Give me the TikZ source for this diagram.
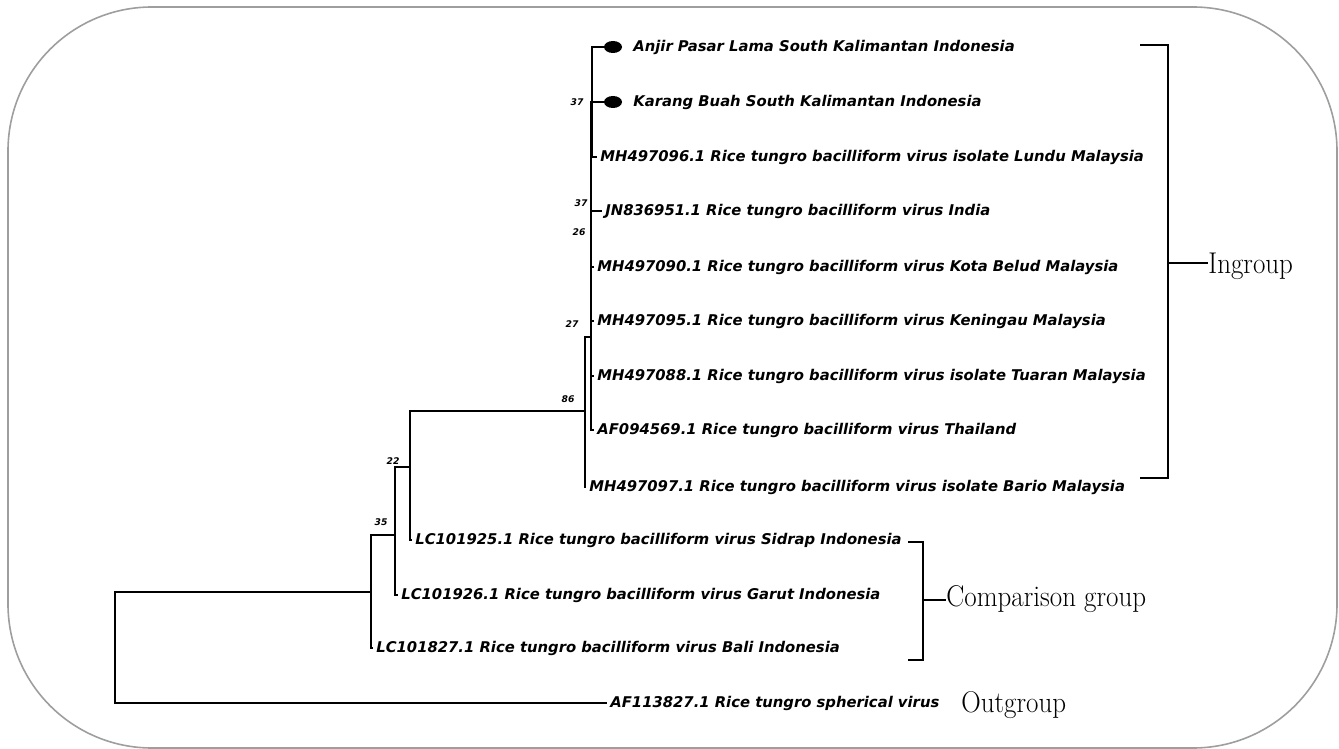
\documentclass[tikz,border=0pt]{standalone}
\usepackage{fontspec}
\usepackage{graphicx}
\newfontfamily\leaffont{DejaVu Sans}
\usetikzlibrary{shapes.geometric}
\tikzset{
  frame/.style={
    draw=black!38,
    line width=0.8pt,
    rounded corners=72pt
  },
  % Tree branches and group brackets:
  branch/.style={line width=0.8pt, line cap=rect},
  brk/.style={line width=1.2pt}
}

\begin{document}
\begin{tikzpicture}[
    x=0.5pt, y=-0.5pt,
    leaf/.style={
      anchor=west,
      inner xsep=2pt,
      inner ysep=1pt,
      font=\leaffont\bfseries\itshape\fontsize{7.4}{8}\selectfont
    },
    boot/.style={
      inner sep=0pt,
      font=\leaffont\bfseries\itshape\fontsize{4.6}{5}\selectfont
    },
    dot/.style={
      ellipse,
      fill=black,
      inner sep=0pt,
      minimum width=9pt,
      minimum height=6pt
    },
    grp/.style={
      anchor=base west,
      inner sep=0pt,
      font=\fontsize{15}{18}\selectfont
    }
  ]
  \useasboundingbox (0,0) rectangle (1339,749);
  \draw[frame] (8,7) rectangle (1337,748);

  % leaves
  \node[dot] (dot1) at (613,47) {};
  \node[leaf] (anjir) at (629,47) {Anjir Pasar Lama South Kalimantan Indonesia};
  \node[dot] (dot2) at (613,102) {};
  \node[leaf] (karang) at (629,102) {Karang Buah South Kalimantan Indonesia};
  \node[leaf] (lundu) at (596,157) {MH497096.1 Rice tungro bacilliform virus isolate Lundu Malaysia};
  \node[leaf] (india) at (601,211) {JN836951.1 Rice tungro bacilliform virus India};
  \node[leaf] (kota) at (593,267) {MH497090.1 Rice tungro bacilliform virus Kota Belud Malaysia};
  \node[leaf] (keningau) at (593,321) {MH497095.1 Rice tungro bacilliform virus Keningau Malaysia};
  \node[leaf] (tuaran) at (593,376) {MH497088.1 Rice tungro bacilliform virus isolate Tuaran Malaysia};
  \node[leaf] (thai) at (593,430) {AF094569.1 Rice tungro bacilliform virus Thailand};
  \node[leaf] (bario) at (585,487) {MH497097.1 Rice tungro bacilliform virus isolate Bario Malaysia};
  \node[leaf] (sidrap) at (411,540) {LC101925.1 Rice tungro bacilliform virus Sidrap Indonesia};
  \node[leaf] (garut) at (397,595) {LC101926.1 Rice tungro bacilliform virus Garut Indonesia};
  \node[leaf] (bali) at (372,648) {LC101827.1 Rice tungro bacilliform virus Bali Indonesia};
  \node[leaf] (rtsv) at (606,703) {AF113827.1 Rice tungro spherical virus};

  % inner nodes
  \coordinate (n37a) at (592,102);
  \coordinate (n37b) at (591,205);
  \coordinate (n26) at (591,232);
  \coordinate (n27) at (591,337);
  \coordinate (n86) at (585,411);
  \coordinate (nsid) at (410,467);
  \coordinate (n22) at (395,535);
  \coordinate (n35) at (371,592);
  \coordinate (root) at (115,648);

  \draw[branch] (root) |- (n35);
  \draw[branch] (root) |- (rtsv.west);
  \draw[branch] (n35) |- (n22);
  \draw[branch] (n35) |- (bali.west);
  \draw[branch] (n22) |- (nsid);
  \draw[branch] (n22) |- (garut.west);
  \draw[branch] (nsid) |- (n86);
  \draw[branch] (nsid) |- (sidrap.west);
  \draw[branch] (n86) |- (n27);
  \draw[branch] (n86) |- (bario.west);
  \draw[branch] (n27) |- (n26);
  \draw[branch] (n27) |- (keningau.west);
  \draw[branch] (n27) |- (tuaran.west);
  \draw[branch] (n27) |- (thai.west);
  \draw[branch] (n26) |- (n37b);
  \draw[branch] (n26) |- (kota.west);
  \draw[branch] (n37b) |- (n37a);
  \draw[branch] (n37b) |- (india.west);
  \draw[branch] (n37a) |- (dot1.west);
  \draw[branch] (n37a) |- (dot2.west);
  \draw[branch] (n37a) |- (lundu.west);

  % bootstrap values
  \node[boot] (b37a) at (577,102) {37};
  \node[boot] (b37b) at (581,203) {37};
  \node[boot] (b26) at (579,232) {26};
  \node[boot] (b27) at (572,324) {27};
  \node[boot] (b86) at (568,399) {86};
  \node[boot] (b22) at (393,461) {22};
  \node[boot] (b35) at (381,522) {35};

  % groups
  \coordinate (inTop) at (1140,45);
  \coordinate (inBot) at (1140,478);
  \coordinate (inMid) at (1168,263);
  \node[grp] (ingroup) at (1208,273) {\scalebox{.9}[1]{Ingroup}};
  \draw[brk] (inTop) -| (inMid) |- (inBot);
  \draw[brk] (inMid) -- (inMid -| ingroup.west);

  \coordinate (cmTop) at (908,542);
  \coordinate (cmBot) at (908,660);
  \coordinate (cmMid) at (923,600);
  \node[grp] (compgrp) at (946,606) {\scalebox{.9}[1]{Comparison group}};
  \draw[brk] (cmTop) -| (cmMid) |- (cmBot);
  \draw[brk] (cmMid) -- (cmMid -| compgrp.west);

  \node[grp] (outgrp) at (961,712) {\scalebox{.9}[1]{Outgroup}};
\end{tikzpicture}
\end{document}
